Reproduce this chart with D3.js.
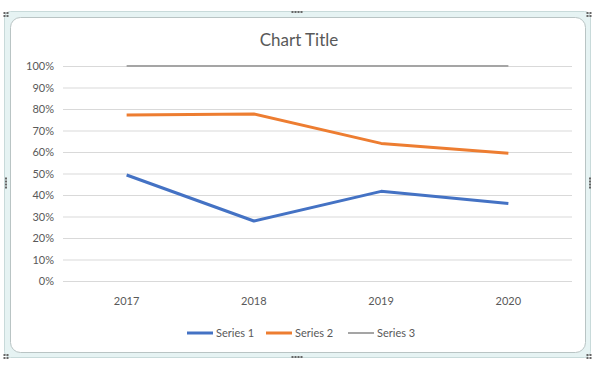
<!DOCTYPE html>
<html>
<head>
<meta charset="utf-8">
<script src="https://cdn.jsdelivr.net/npm/d3@7"></script>
<style>
  body { margin: 0; background: #fff; }
  text { font-family: Lato, "Open Sans", sans-serif; fill: #595959; }
</style>
</head>
<body>
<div class="canvas"></div>
<script>
const years = ['2017', '2018', '2019', '2020'];
const series1 = [0.493, 0.279, 0.417, 0.361];
const series2 = [0.772, 0.777, 0.640, 0.594];
const series3 = [1.0, 1.0, 1.0, 1.0];
const seriesNames = ['Series 1', 'Series 2', 'Series 3'];
const yTicks = [0, 0.1, 0.2, 0.3, 0.4, 0.5, 0.6, 0.7, 0.8, 0.9, 1.0];

const dims = { width: 595, height: 369 };
const plot = { left: 63, right: 572, top: 66, bottom: 281 };

const svg = d3.select('.canvas')
    .append('svg')
    .attr('width', dims.width)
    .attr('height', dims.height)
;

// selection frame
svg.append('rect')
    .attr('x', 4.5).attr('y', 11.5)
    .attr('width', 586).attr('height', 346)
    .attr('rx', 6)
    .attr('fill', '#e6f3f3')
    .attr('stroke', '#c8dada');
svg.append('rect')
    .attr('x', 10.5).attr('y', 17.5)
    .attr('width', 575).attr('height', 335)
    .attr('rx', 10)
    .attr('fill', '#fff')
    .attr('stroke', '#b9c4c4');

// handles
const dots = (cx, cy, dir, n) => {
    for (let i = 0; i < n; i++) {
        const off = (i - (n - 1) / 2) * 3;
        svg.append('rect')
            .attr('x', cx + (dir === 'h' ? off : 0) - 1)
            .attr('y', cy + (dir === 'v' ? off : 0) - 1)
            .attr('width', 2).attr('height', 2)
            .attr('fill', '#666');
    }
};
dots(297, 12, 'h', 4);
dots(297, 357, 'h', 4);
dots(6, 183, 'v', 4);
dots(590, 183, 'v', 4);
[[6, 13], [589, 13], [6, 355], [589, 355]].forEach(([x, y]) => {
    dots(x, y, 'h', 2);
    dots(x, y + 3, 'h', 2);
});

const x = d3.scaleBand().domain(years).range([plot.left, plot.right]);
const y = d3.scaleLinear().domain([0, 1]).range([plot.bottom, plot.top]);

const graph = svg.append('g');

// gridlines
graph.append('g')
    .attr('transform', `translate(${plot.left},0)`)
    .call(d3.axisLeft(y).tickValues(yTicks).tickSize(-(plot.right - plot.left)).tickFormat(d3.format('.0%')))
    .call(g => g.select('.domain').remove())
    .call(g => g.selectAll('line').attr('stroke', '#d9d9d9'))
    .call(g => g.selectAll('text').attr('x', -9).attr('font-size', 11).attr('fill', '#595959'))
;

graph.append('g')
    .attr('transform', `translate(0,${plot.bottom})`)
    .call(d3.axisBottom(x).tickSize(0))
    .call(g => g.select('.domain').remove())
    .call(g => g.selectAll('text').attr('dy', '1.9em').attr('font-size', 11).attr('fill', '#595959'))
;

const colour = d3.scaleOrdinal().domain(seriesNames).range(['#4472c4', '#ed7d31', '#a5a5a5']);
const widths = { 'Series 1': 3, 'Series 2': 3, 'Series 3': 2 };
const allSeries = [series1, series2, series3];

const line = d3.line()
    .x((d, i) => x(years[i]) + x.bandwidth() / 2)
    .y(d => y(d));

graph.selectAll('path.series')
    .data(allSeries)
    .enter()
    .append('path')
        .attr('class', 'series')
        .attr('d', line)
        .attr('fill', 'none')
        .attr('stroke', (d, i) => colour(seriesNames[i]))
        .attr('stroke-width', (d, i) => widths[seriesNames[i]])
        .attr('stroke-linejoin', 'round')
;

// title
svg.append('text')
    .attr('x', 299).attr('y', 46)
    .attr('text-anchor', 'middle')
    .attr('font-size', 17)
    .text('Chart Title');

// legend
const legendX = [187, 266, 348];
const legend = svg.selectAll('g.legend')
    .data(seriesNames)
    .enter()
    .append('g')
        .attr('class', 'legend')
        .attr('transform', (d, i) => `translate(${legendX[i]},333)`);
legend.append('line')
    .attr('x1', 0).attr('x2', 26)
    .attr('stroke', d => colour(d))
    .attr('stroke-width', d => widths[d]);
legend.append('text')
    .attr('x', 29).attr('dy', '0.35em')
    .attr('font-size', 11)
    .text(d => d);
</script>
</body>
</html>
